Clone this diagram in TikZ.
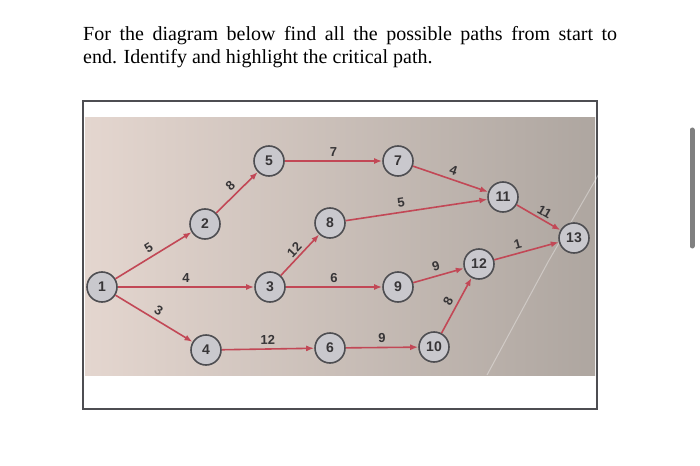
\documentclass[tikz,border=0pt]{standalone}
\usepackage{fontspec}
\setmainfont{Liberation Serif}
\newfontfamily\labelfont{Liberation Sans}
\usetikzlibrary{arrows.meta}
\definecolor{edgered}{RGB}{194,72,86}
\definecolor{nodefill}{RGB}{201,200,205}
\definecolor{nodeline}{RGB}{78,78,82}
\definecolor{inkgray}{RGB}{55,53,55}
\definecolor{paperleft}{RGB}{228,214,207}
\definecolor{papermid}{RGB}{206,199,193}
\definecolor{paperright}{RGB}{174,166,160}
\tikzset{
	>={Latex[length=8pt,width=6pt]},
	event/.style={circle, draw=nodeline, line width=1.6pt, fill=nodefill,
		minimum size=30pt, inner sep=0pt, text=inkgray,
		font=\labelfont\bfseries\fontsize{14}{14}\selectfont},
	task/.style={->, draw=edgered, line width=1.6pt},
	dur/.style={above, sloped, inner sep=4pt, text=inkgray,
		font=\labelfont\bfseries\fontsize{13}{13}\selectfont}
}
\begin{document}
\begin{tikzpicture}[x=1pt, y=-1pt]
	\useasboundingbox (0,0) rectangle (700,465);
	\fill[white] (0,0) rectangle (700,465);

%	question text
	\node[anchor=base west, inner sep=0pt, font=\fontsize{20}{23}\selectfont] (line1) at (83,41)
		{\makebox[534pt][s]{For the diagram below find all the possible paths from start to}};
	\node[anchor=base west, inner sep=0pt, font=\fontsize{20}{23}\selectfont] (line2) at (83,64)
		{end. Identify and highlight the critical path.};

%	frame and photo
	\draw[line width=1.5pt, draw=nodeline] (83,101) rectangle (597,409);
	\shade[left color=paperleft, middle color=papermid, right color=paperright] (85,118) rectangle (595,375);
	\draw[white, opacity=0.35, line width=1pt] (600,172) -- (548,262) -- (487,375);

%	scroll bar
	\draw[line width=5pt, line cap=round, draw=gray] (692,130) -- (692,246);

%	events
	\node[event] (n1)  at (102,287) {1};
	\node[event] (n2)  at (205,224) {2};
	\node[event] (n3)  at (270,287) {3};
	\node[event] (n4)  at (206,350) {4};
	\node[event] (n5)  at (269,161) {5};
	\node[event] (n6)  at (330,348) {6};
	\node[event] (n7)  at (398,161) {7};
	\node[event] (n8)  at (330,223) {8};
	\node[event] (n9)  at (398,287) {9};
	\node[event] (n10) at (434,347) {10};
	\node[event] (n11) at (503,197) {11};
	\node[event] (n12) at (479,264) {12};
	\node[event] (n13) at (574,238) {13};

	\draw
%	top branch
	(n1)  edge[task] node[dur]{5} (n2)
	(n2)  edge[task] node[dur]{8} (n5)
	(n5)  edge[task] node[dur]{7} (n7)
	(n7)  edge[task] node[dur]{4} (n11)
	(n8)  edge[task] node[dur, pos=0.4]{5} (n11)
	(n11) edge[task] node[dur, pos=0.55, inner sep=2.5pt]{11} (n13)

%	middle branch
	(n1)  edge[task] node[dur]{4} (n3)
	(n3)  edge[task] node[dur, pos=0.5, inner sep=2.5pt]{12} (n8)
	(n3)  edge[task] node[dur]{6} (n9)
	(n9)  edge[task] node[dur]{9} (n12)
	(n12) edge[task] node[dur, pos=0.4]{1} (n13)

%	bottom branch
	(n1)  edge[task] node[dur]{3} (n4)
	(n4)  edge[task] node[dur]{12} (n6)
	(n6)  edge[task] node[dur]{9} (n10)
	(n10) edge[task] node[dur]{8} (n12)
	;
\end{tikzpicture}
\end{document}
